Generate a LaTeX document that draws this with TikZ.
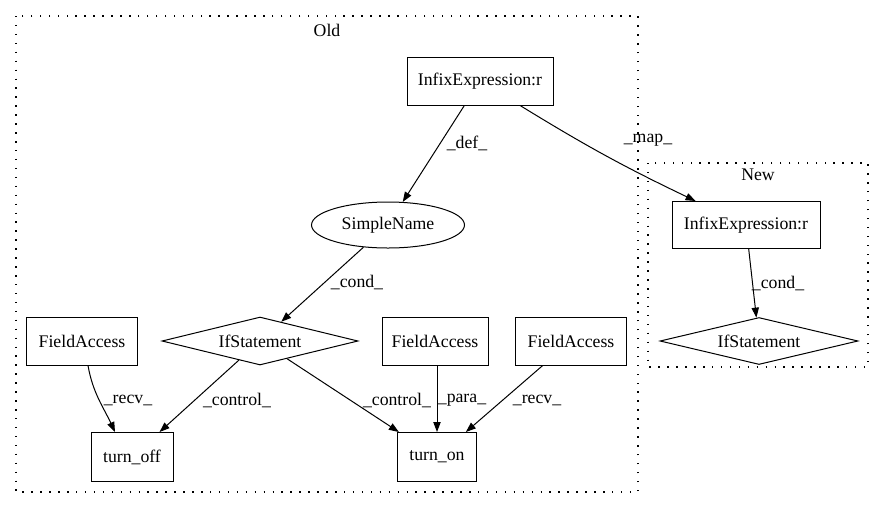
\documentclass[tikz,border=0pt]{standalone}
\usepackage{fontspec}
\setmainfont{Liberation Serif}
\usetikzlibrary{arrows.meta,shapes.geometric}
\begin{document}
\begin{tikzpicture}[x=0.75pt,y=-0.75pt,
  every node/.style={font=\fontsize{13.3}{16}\selectfont},
  box/.style={draw,rectangle,inner sep=0pt,line width=0.75pt},
  cond/.style={draw,diamond,aspect=4,inner sep=0pt,minimum width=147pt,minimum height=36pt,line width=0.75pt},
  ell/.style={draw,ellipse,inner sep=0pt,minimum width=114.75pt,minimum height=34.5pt,line width=0.75pt},
  cluster/.style={draw,line width=0.9pt,dash pattern=on 1.1pt off 5.6pt},
  edge/.style={draw,line width=0.75pt,-{Triangle[length=7.5pt,width=5.5pt]}},
  lab/.style={inner sep=0pt}]
\useasboundingbox (0,0) rectangle (884,508);
\fill[white] (0,0) rectangle (884,508);
% clusters
\draw[cluster] (16,16) rectangle (638,492);
\node[lab] (oldlab) at (327,30) {Old};
\draw[cluster] (648,163) rectangle (868,367);
\node[lab] (newlab) at (758,175) {New};
% nodes
\node[box,minimum width=109.5pt,minimum height=36pt] (infold) at (480,81) {InfixExpression:r};
\node[ell] (sname) at (388,225) {SimpleName};
\node[cond] (ifold) at (260,341) {IfStatement};
\node[box,minimum width=83.25pt,minimum height=36pt] (fa1) at (82,341) {FieldAccess};
\node[box,minimum width=79.5pt,minimum height=36pt] (fa2) at (435,341) {FieldAccess};
\node[box,minimum width=83.25pt,minimum height=36pt] (fa3) at (571,341) {FieldAccess};
\node[box,minimum width=61.5pt,minimum height=36.75pt] (toff) at (132,457) {turn\_off};
\node[box,minimum width=59.25pt,minimum height=36.75pt] (ton) at (437,457) {turn\_on};
\node[box,minimum width=111pt,minimum height=35.25pt] (infnew) at (746,225) {InfixExpression:r};
\node[cond,minimum width=148.5pt,minimum height=35.25pt] (ifnew) at (759,341) {IfStatement};
% edges
\draw[edge] (infold) -- (sname);
\draw[edge] (infold) to[bend right=3] (infnew);
\draw[edge] (sname) -- (ifold);
\draw[edge] ([xshift=4.5pt]fa1.south) to[out=-80,in=115] ([xshift=-12.75pt]toff.north);
\draw[edge] (ifold) -- (toff);
\draw[edge] (ifold) -- (ton);
\draw[edge] (fa2.south -| ton.north) -- (ton.north);
\draw[edge] (fa3) -- (ton);
\draw[edge] (infnew) -- (ifnew);
% edge labels
\node[lab] (ldef) at (467,143) {\_def\_};
\node[lab] (lmap) at (648,140) {\_map\_};
\node[lab] (lcond) at (357,282) {\_cond\_};
\node[lab] (lrecv1) at (128,400) {\_recv\_};
\node[lab] (lctl1) at (237,400) {\_control\_};
\node[lab] (lctl2) at (397,400) {\_control\_};
\node[lab] (lpara) at (462,400) {\_para\_};
\node[lab] (lrecv2) at (537,400) {\_recv\_};
\node[lab] (lcond2) at (778,283) {\_cond\_};
\end{tikzpicture}
\end{document}
